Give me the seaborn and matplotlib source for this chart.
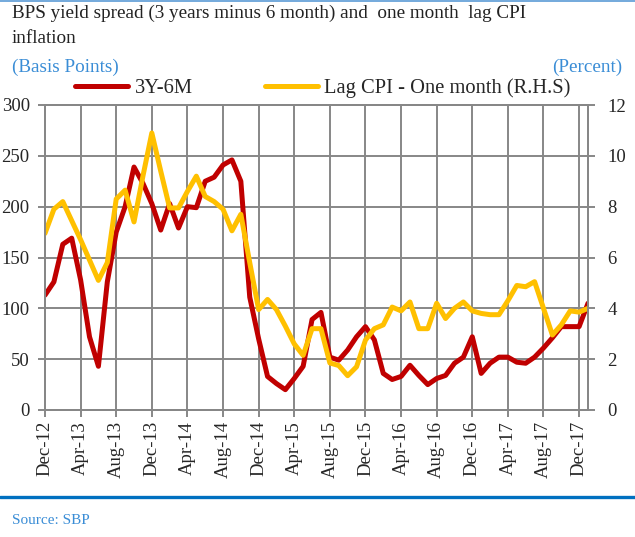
import numpy as np
import pandas as pd
import matplotlib
matplotlib.use("Agg")
import matplotlib.pyplot as plt
import seaborn as sns
from matplotlib.lines import Line2D

sns.set_style("white")
plt.rcParams['font.family'] = ['Liberation Serif', 'DejaVu Serif']

# monthly, Dec-12 .. Jan-18
months = pd.date_range("2012-12-01", periods=62, freq="MS")

spread_3y6m = [113, 126, 163, 169, 128, 72, 43, 126, 175, 200, 239, 223,
               203, 177, 203, 179, 200, 199, 225, 229, 241, 246, 225, 111,
               70, 33, 26, 20, 31, 43, 89, 96, 52, 49, 59, 72,
               82, 69, 36, 30, 33, 44, 34, 25, 31, 34, 46, 52,
               72, 36, 46, 52, 52, 47, 46, 52, 61, 71, 82, 82,
               82, 105]

lag_cpi = [6.95, 7.9, 8.2, 7.45, 6.7, 5.9, 5.1, 5.8, 8.3, 8.65, 7.4, 9.2,
           10.9, 9.4, 7.95, 7.95, 8.6, 9.2, 8.4, 8.2, 7.9, 7.05, 7.7, 5.8,
           3.95, 4.35, 3.95, 3.3, 2.6, 2.15, 3.2, 3.2, 1.85, 1.75, 1.35, 1.7,
           2.75, 3.2, 3.35, 4.05, 3.9, 4.25, 3.2, 3.2, 4.2, 3.6, 4.0, 4.25,
           3.9, 3.8, 3.75, 3.75, 4.3, 4.9, 4.85, 5.05, 4.0, 2.95, 3.35, 3.9,
           3.85, 4.0]

tick_labels = [d.strftime("%b-%y") for d in months[::4]]

df = pd.DataFrame({"t": np.arange(len(months)), "spread": spread_3y6m, "cpi": lag_cpi})

red = "#C00000"
yellow = "#FFC000"
grid = "#878787"
blue = "#3A8DD6"

W, H = 635, 537
fig = plt.figure(figsize=(W / 100, H / 100), dpi=100)
ax = fig.add_axes([45 / W, 1 - 410 / H, (588 - 45) / W, (410 - 105) / H])

sns.lineplot(data=df, x="t", y="spread", ax=ax, color=red, lw=3.6)
ax2 = ax.twinx()
sns.lineplot(data=df, x="t", y="cpi", ax=ax2, color=yellow, lw=3.6)

ax.set_xlim(0, len(months) - 1)
ax.set_ylim(0, 300)
ax2.set_ylim(0, 12)
ax.set_yticks(np.arange(0, 301, 50))
ax2.set_yticks(np.arange(0, 13, 2))
ax.set_xticks(np.arange(0, len(months), 4))
ax.set_xticklabels(tick_labels, rotation=90)
ax.set_xlabel("")
ax.set_ylabel("")
ax2.set_ylabel("")

ax.grid(True, color=grid, lw=1.4)
ax.set_axisbelow(True)
for a in (ax, ax2):
    for s in a.spines.values():
        s.set_color(grid)
        s.set_linewidth(1.4)
ax.tick_params(axis="y", length=5, width=1.4, color=grid, labelsize=13.5, pad=6, left=True)
ax.tick_params(axis="x", length=5, width=1.4, color=grid, labelsize=13.5, pad=3, bottom=True)
ax2.tick_params(axis="y", length=5, width=1.4, color=grid, labelsize=13.5, pad=9, right=True)

# title, units, source
fig.text(12 / W, 1 - 5 / H, "BPS yield spread (3 years minus 6 month) and  one month  lag CPI\ninflation",
         ha="left", va="top", fontsize=13.8, color="#222222", linespacing=1.6)
fig.text(12 / W, 1 - 67 / H, "(Basis Points)", ha="left", va="center", fontsize=13.8, color=blue)
fig.text(622 / W, 1 - 67 / H, "(Percent)", ha="right", va="center", fontsize=13.8, color=blue)
fig.text(12 / W, 1 - 520 / H, "Source: SBP", ha="left", va="center", fontsize=11, color=blue)

handles = [Line2D([], [], color=red, lw=3.6), Line2D([], [], color=yellow, lw=3.6)]
fig.legend(handles, ["3Y-6M", "Lag CPI - One month (R.H.S)"], loc="center left",
           bbox_to_anchor=(75 / W, 1 - 88 / H), ncol=2, frameon=False, fontsize=14.8,
           handlelength=2.6, handletextpad=0.3, columnspacing=3.5, borderpad=0, borderaxespad=0)

fig.add_artist(Line2D([0, 1], [1 - 1 / H, 1 - 1 / H], transform=fig.transFigure, color="#5B9BD5", lw=1.2))
fig.add_artist(Line2D([0, 1], [1 - 497 / H, 1 - 497 / H], transform=fig.transFigure, color="#0070C0", lw=2.4))

fig.savefig("out.png", dpi=100)
